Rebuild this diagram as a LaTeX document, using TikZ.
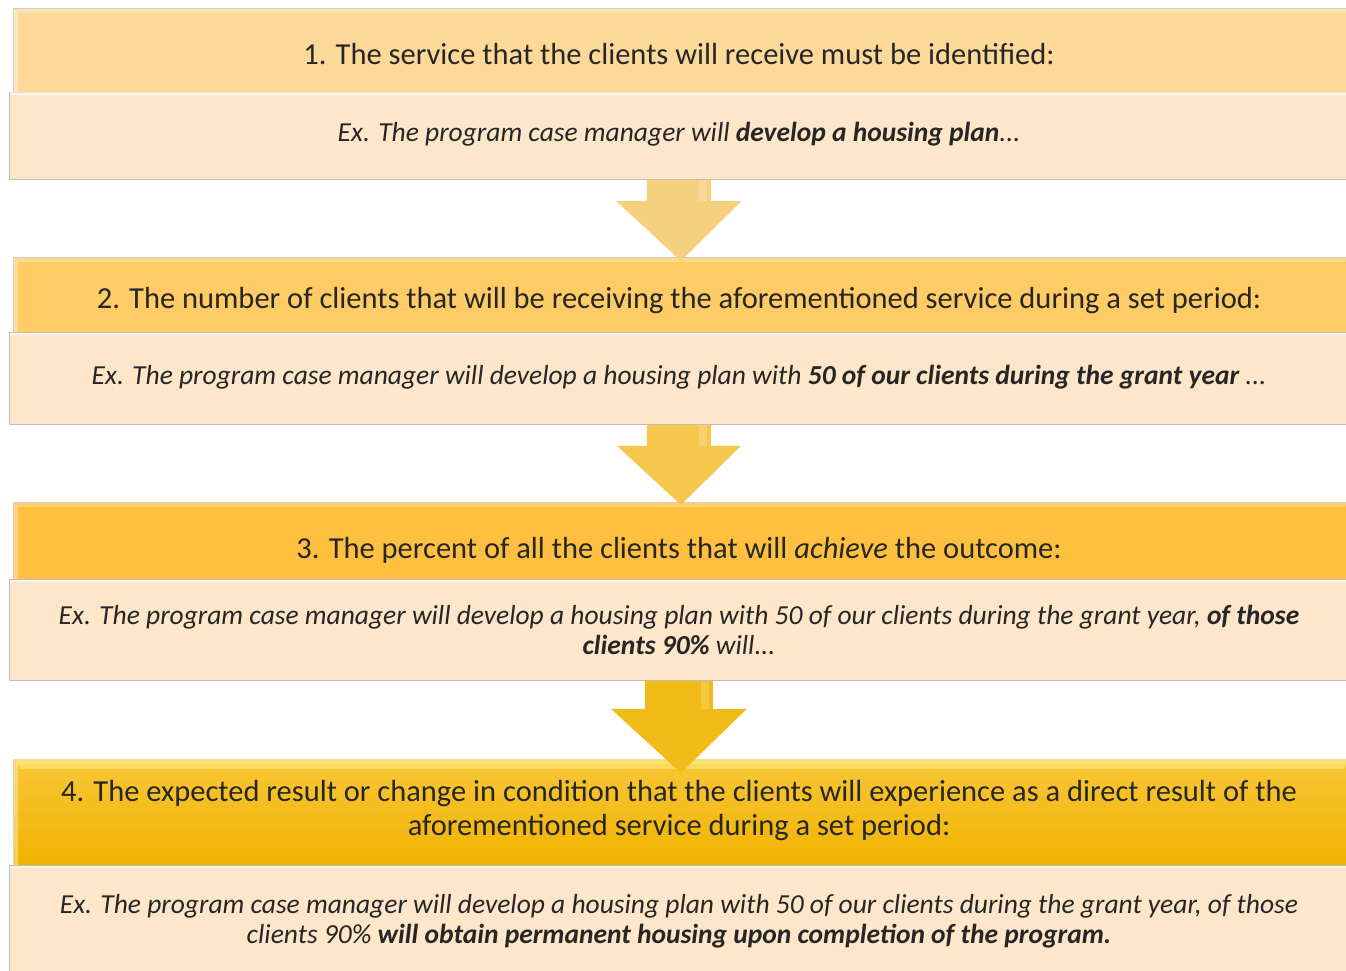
\documentclass[tikz,border=0pt]{standalone}
\usepackage{fontspec}
\setmainfont{Carlito}
\usetikzlibrary{calc}
\definecolor{hA}{HTML}{FDD999}
\definecolor{hB}{HTML}{FECB65}
\definecolor{hC}{HTML}{FEC03E}
\definecolor{hDt}{HTML}{F8C638}
\definecolor{hDb}{HTML}{F1B300}
\definecolor{bodyc}{HTML}{FDE6C9}
\definecolor{edgec}{HTML}{C4BDB3}
\definecolor{txt}{HTML}{262626}
\definecolor{aA}{HTML}{F5D17F}
\definecolor{aB}{HTML}{F6C74D}
\definecolor{aC}{HTML}{F2BC18}
\tikzset{
  hdr/.style={draw=edgec, line width=0.8pt, rectangle, anchor=north west, inner sep=0pt,
    text=txt, align=center, font=\fontsize{30.5}{34}\selectfont},
  bodybox/.style={draw=edgec, line width=0.8pt, fill=bodyc, rectangle, anchor=north west, inner sep=0pt,
    text=black!85, align=center, font=\fontsize{27.5}{30}\selectfont\itshape},
  blockarrow/.style={draw=none}
}
\begin{document}
\begin{tikzpicture}[x=1pt,y=-1pt]
\useasboundingbox (0,0) rectangle (1346,971);
\fill[white] (0,0) rectangle (1346,971);
% headers
\node[hdr, fill=hA, minimum width=1335pt, minimum height=85pt] (h1) at (13,8) {};
\node[hdr, fill=hB, minimum width=1335pt, minimum height=76pt] (h2) at (13,257) {};
\node[hdr, fill=hC, minimum width=1335pt, minimum height=78pt] (h3) at (13,502) {};
\node[hdr, top color=hDt, bottom color=hDb, minimum width=1335pt, minimum height=107pt] (h4) at (13,759) {};
% header bevels
\foreach \h in {h1,h2,h3,h4}{
  \fill[white, opacity=0.25] (\h.north west) -- (\h.north east) -- ($(\h.north east)+(-4,5)$) -- ($(\h.north west)+(5,5)$) -- cycle;
  \fill[white, opacity=0.35] (\h.north west) -- ($(\h.north west)+(5,5)$) -- ($(\h.south west)+(5,0)$) -- (\h.south west) -- cycle;
}
\fill[hDt!60!yellow!60!white, opacity=0.6] (h4.north west) -- (h4.north east) -- ($(h4.north east)+(-5,10)$) -- ($(h4.north west)+(8,10)$) -- cycle;
% header texts
\node[hdr, draw=none, anchor=center] (t1) at (679,54) {1. The service that the clients will receive must be identified:};
\node[hdr, draw=none, anchor=center] (t2) at (679,301) {2. The number of clients that will be receiving the aforementioned service during a set period:};
\node[hdr, draw=none, anchor=center] (t3) at (679,550) {3. The percent of all the clients that will \textit{achieve} the outcome:};
\node[hdr, draw=none, anchor=center] (t4) at (679,811) {4. The expected result or change in condition that the clients will experience as a direct result of the\\aforementioned service during a set period:};
% bodies
\node[bodybox, minimum width=1339pt, minimum height=87pt] (b1) at (9,92) {};
\node[bodybox, minimum width=1339pt, minimum height=92pt] (b2) at (9,332) {};
\node[bodybox, minimum width=1339pt, minimum height=101pt] (b3) at (9,579) {};
\node[bodybox, minimum width=1339pt, minimum height=108pt] (b4) at (9,865) {};
\foreach \b in {b1,b2,b3,b4}{
  \fill[white, opacity=0.6] ($(\b.north west)+(0.5,0.5)$) rectangle ($(\b.north east)+(-0.5,3)$);
}
% body texts
\node[bodybox, draw=none, fill=none, anchor=center] (s1) at (679,134) {Ex. The program case manager will \textbf{develop a housing plan}...};
\node[bodybox, draw=none, fill=none, anchor=center] (s2) at (679,377) {Ex. The program case manager will develop a housing plan with \textbf{50 of our clients during the grant year} ...};
\node[bodybox, draw=none, fill=none, anchor=center] (s3) at (679,630) {Ex. The program case manager will develop a housing plan with 50 of our clients during the grant year, \textbf{of those}\\\textbf{clients 90\%} will...};
\node[bodybox, draw=none, fill=none, anchor=center] (s4) at (679,921) {Ex. The program case manager will develop a housing plan with 50 of our clients during the grant year, of those\\clients 90\% \textbf{will obtain permanent housing upon completion of the program.}};
% block arrows
\fill[aA] ($(b1.south)+(-32,0)$) -- ($(b1.south)+(32,0)$) -- ($(b1.south)+(32,21)$) -- ($(b1.south)+(63,21)$) -- ($(h2.north)+(0,4)$) -- ($(b1.south)+(-63,21)$) -- ($(b1.south)+(-32,21)$) -- cycle;
\fill[aB] ($(b2.south)+(-32,0)$) -- ($(b2.south)+(32,0)$) -- ($(b2.south)+(32,21)$) -- ($(b2.south)+(62,21)$) -- ($(h3.north)+(0,3)$) -- ($(b2.south)+(-62,21)$) -- ($(b2.south)+(-32,21)$) -- cycle;
\fill[aC] ($(b3.south)+(-34,0)$) -- ($(b3.south)+(34,0)$) -- ($(b3.south)+(34,28)$) -- ($(b3.south)+(68,28)$) -- ($(h4.north)+(0,14)$) -- ($(b3.south)+(-68,28)$) -- ($(b3.south)+(-34,28)$) -- cycle;
% arrow highlights
\foreach \b/\w/\d in {b1/32/21,b2/32/21,b3/34/28}{
  \fill[white, opacity=0.18] ($(\b.south)+(\w-12,0)$) rectangle ($(\b.south)+(\w-4,\d)$);
}
\end{tikzpicture}
\end{document}
